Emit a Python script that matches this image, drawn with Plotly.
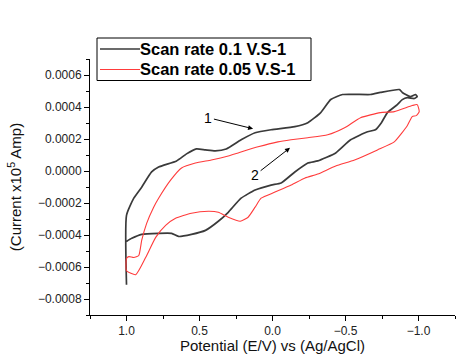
import plotly.graph_objects as go

# Scan rate 0.1 V/s (black)
e_fast = [1.0, 1.0, 0.950, 0.896, 0.828, 0.780, 0.657, 0.589, 0.521, 0.460, 0.392, 0.317,
          0.215, 0.119, 0.010, -0.153, -0.242, -0.330, -0.399, -0.480, -0.671, -0.739,
          -0.869, -0.889, -0.944, -0.980, -0.991, -0.971, -0.923, -0.889, -0.855, -0.787,
          -0.746, -0.705, -0.651, -0.535, -0.433, -0.310, -0.242, -0.153, -0.059, 0.010,
          0.119, 0.215, 0.303, 0.371, 0.459, 0.555, 0.644, 0.691, 0.780, 0.896, 0.964, 1.0]
i_fast = [-0.000711, -0.000277, -0.000170, -0.000101, -0.000006, 0.000025, 0.000063,
          0.000107, 0.000138, 0.000132, 0.000126, 0.000138, 0.000195, 0.000239, 0.000258,
          0.000277, 0.000302, 0.000365, 0.000447, 0.000478, 0.000478, 0.000491, 0.000509,
          0.000491, 0.000465, 0.000478, 0.000465, 0.000453, 0.000459, 0.000446, 0.000415,
          0.000365, 0.000302, 0.000258, 0.000245, 0.000195, 0.000113, 0.000063, 0.000050,
          -0.000006, -0.000075, -0.000088, -0.000119, -0.000170, -0.000258, -0.000314,
          -0.000371, -0.000396, -0.000409, -0.000390, -0.000390, -0.000396, -0.000421,
          -0.000440]

# Scan rate 0.05 V/s (red)
e_slow = [1.0, 0.984, 0.950, 0.916, 0.896, 0.862, 0.814, 0.780, 0.698, 0.623, 0.528, 0.419,
          0.303, 0.235, 0.099, -0.037, -0.127, -0.242, -0.378, -0.494, -0.603, -0.739,
          -0.834, -0.957, -0.991, -1.005, -0.984, -0.957, -0.923, -0.834, -0.719, -0.562,
          -0.433, -0.310, -0.223, -0.128, -0.017, 0.078, 0.119, 0.167, 0.221, 0.303, 0.371,
          0.439, 0.555, 0.664, 0.732, 0.800, 0.869, 0.937, 1.0, 1.0]
i_slow = [-0.000547, -0.000535, -0.000541, -0.000528, -0.000434, -0.000327, -0.000226,
          -0.000170, -0.000057, 0.000019, 0.000050, 0.000069, 0.000094, 0.000113, 0.000151,
          0.000182, 0.000195, 0.000208, 0.000226, 0.000270, 0.000333, 0.000365, 0.000371,
          0.000409, 0.000415, 0.000371, 0.000346, 0.000340, 0.000283, 0.000182, 0.000132,
          0.000069, 0.000031, -0.000019, -0.000044, -0.000088, -0.000132, -0.000170,
          -0.000226, -0.000289, -0.000314, -0.000289, -0.000258, -0.000252, -0.000264,
          -0.000296, -0.000340, -0.000415, -0.000541, -0.000648, -0.000623, -0.000547]

names = ["Scan rate 0.1 V.S-1", "Scan rate 0.05 V.S-1"]
colors = ["#3a3a3a", "#ff3b3b"]
x_ticks = [1.0, 0.5, 0.0, -0.5, -1.0]
y_ticks = [-0.0008, -0.0006, -0.0004, -0.0002, 0.0, 0.0002, 0.0004, 0.0006]

fig = go.Figure()
fig.add_trace(go.Scatter(x=e_fast, y=i_fast, mode="lines", name=names[0], showlegend=False,
                         line=dict(color=colors[0], width=1.7, shape="spline", smoothing=0.5)))
fig.add_trace(go.Scatter(x=e_slow, y=i_slow, mode="lines", name=names[1], showlegend=False,
                         line=dict(color=colors[1], width=1.1, shape="spline", smoothing=0.5)))

axis_common = dict(showline=True, linecolor="black", linewidth=1, ticks="outside",
                   ticklen=5, tickcolor="black", showgrid=False, zeroline=False,
                   mirror=False, tickfont=dict(family="Arial", size=12, color="#222"),
                   minor=dict(ticks="outside", ticklen=3, tickcolor="black"))

fig.update_xaxes(range=[1.25, -1.25], tickvals=x_ticks, tickformat=".1f",
                 title=dict(text="Potential (E/V) vs (Ag/AgCl)",
                            font=dict(family="Arial", size=15, color="#111"), standoff=3),
                 minor_dtick=0.25, **axis_common)
fig.update_yaxes(range=[-0.0009, 0.0007], tickvals=y_ticks, tickformat=".4f",
                 title=dict(text="(Current x10<sup>5</sup> Amp)",
                            font=dict(family="Arial", size=15, color="#111"), standoff=12),
                 minor_dtick=0.0001, **axis_common)

# Arrows with labels "1" and "2"
arrow_style = dict(showarrow=True, arrowhead=2, arrowsize=1, arrowwidth=1,
                   arrowcolor="black", axref="x", ayref="y",
                   font=dict(family="Arial", size=14, color="black"))
fig.add_annotation(x=0.133, y=0.000264, ax=0.439, ay=0.000333, text="1", **arrow_style)
fig.add_annotation(x=-0.120, y=0.000145, ax=0.119, ay=-0.000025, text="2", **arrow_style)

# Legend box drawn manually (paper coordinates)
fig.add_shape(type="rect", xref="paper", yref="paper", x0=0.0192, x1=0.6055,
              y0=0.916, y1=1.082, line=dict(color="black", width=1), fillcolor="white",
              layer="above")
legend_y = [1.039, 0.959]
for name, col, ly, lw in zip(names, colors, legend_y, [1.7, 1.2]):
    fig.add_shape(type="line", xref="paper", yref="paper", x0=0.0274, x1=0.137,
                  y0=ly, y1=ly, line=dict(color=col, width=lw), layer="above")
    fig.add_annotation(xref="paper", yref="paper", x=0.133, y=ly, text="<b>%s</b>" % name,
                       showarrow=False, xanchor="left", yanchor="middle", borderpad=0,
                       font=dict(family="Arial", size=16.5, color="black"))

fig.update_layout(
    width=457, height=354,
    margin=dict(l=90, r=2, t=59, b=39),
    paper_bgcolor="white", plot_bgcolor="white",
    showlegend=False,
)

fig.write_html("out.html")
